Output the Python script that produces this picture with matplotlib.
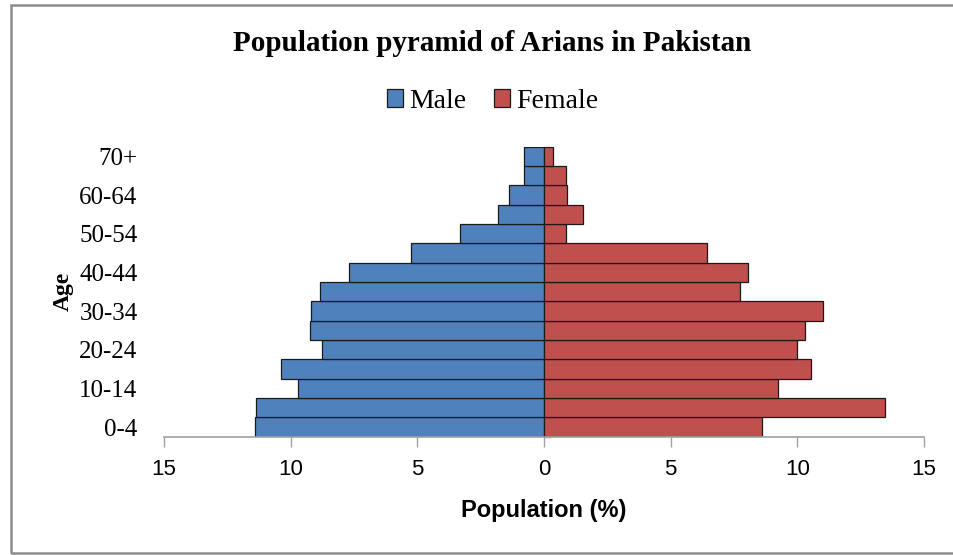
import numpy as np
import matplotlib.pyplot as plt
from matplotlib.patches import Rectangle

# Age groups, bottom to top
age_groups = ['0-4', '5-9', '10-14', '15-19', '20-24', '25-29', '30-34',
              '35-39', '40-44', '45-49', '50-54', '55-59', '60-64',
              '65-69', '70+']
# Population share in percent
male = [11.4, 11.35, 9.7, 10.4, 8.75, 9.25, 9.2, 8.85, 7.7, 5.25, 3.3,
        1.8, 1.4, 0.8, 0.8]
female = [8.6, 13.45, 9.25, 10.55, 10.0, 10.3, 11.0, 7.75, 8.05, 6.45,
          0.85, 1.55, 0.9, 0.85, 0.35]
xticks = [-15, -10, -5, 0, 5, 10, 15]

blue = '#4F81BD'
red = '#C0504D'
serif = ['Liberation Serif', 'DejaVu Serif']
narrow = ['Liberation Sans Narrow', 'Liberation Sans', 'DejaVu Sans']

fig = plt.figure(figsize=(9.54, 5.55), dpi=100)
ax = fig.add_axes([0.1719, 0.2132, 0.7966, 0.5225])

y = np.arange(len(age_groups))
ax.barh(y, -np.array(male), height=1.0, color=blue, edgecolor='#1a1a1a',
        linewidth=0.9, label='Male')
ax.barh(y, female, height=1.0, color=red, edgecolor='#1a1a1a',
        linewidth=0.9, label='Female')

ax.set_xlim(-15, 15)
ax.set_ylim(-0.5, len(age_groups) - 0.5)

# x axis: absolute values on both sides
ax.set_xticks(xticks)
ax.set_xticklabels([str(abs(v)) for v in xticks], family=narrow, fontsize=16)
ax.tick_params(axis='x', length=7, width=1, color='#a0a0a0', pad=9)
ax.set_xlabel('Population (%)', family=narrow, fontsize=17,
              fontweight='bold', labelpad=14)

# y axis: every second age group labelled on the left
ax.set_yticks(y[::2])
ax.set_yticklabels(age_groups[::2], family=serif, fontsize=18)
ax.tick_params(axis='y', length=0, pad=19)
ax.set_ylabel('Age', family=serif, fontsize=17, fontweight='bold',
              labelpad=0)
ax.yaxis.set_label_coords(-0.119, 0.5)

for s in ['top', 'right', 'left']:
    ax.spines[s].set_visible(False)
ax.spines['bottom'].set_color('#a0a0a0')
ax.spines['bottom'].set_linewidth(1.2)

# category axis through zero with marks between groups
sec = ax.secondary_yaxis(0.5)
sec.set_yticks(np.arange(-0.5, len(age_groups), 1.0))
sec.set_yticklabels([])
sec.tick_params(length=5, width=1, color='#a0a0a0')
sec.spines['left'].set_color('#a0a0a0')

fig.text(0.516, 0.922, 'Population pyramid of Arians in Pakistan',
         family=serif, fontsize=21, fontweight='bold',
         ha='center', va='center')

leg = fig.legend(loc='center', bbox_to_anchor=(0.516, 0.818), ncol=2,
                 frameon=False, prop={'family': serif, 'size': 20},
                 handlelength=0.6, handleheight=0.6, handletextpad=0.2,
                 columnspacing=1.0)

# chart frame
fig.patches.append(Rectangle((11 / 954, 2 / 555), 1.2, 548 / 555,
                             transform=fig.transFigure, fill=False,
                             edgecolor='#8c8c8c', linewidth=1.8))

fig.savefig('out.png', dpi=100, facecolor='white')
